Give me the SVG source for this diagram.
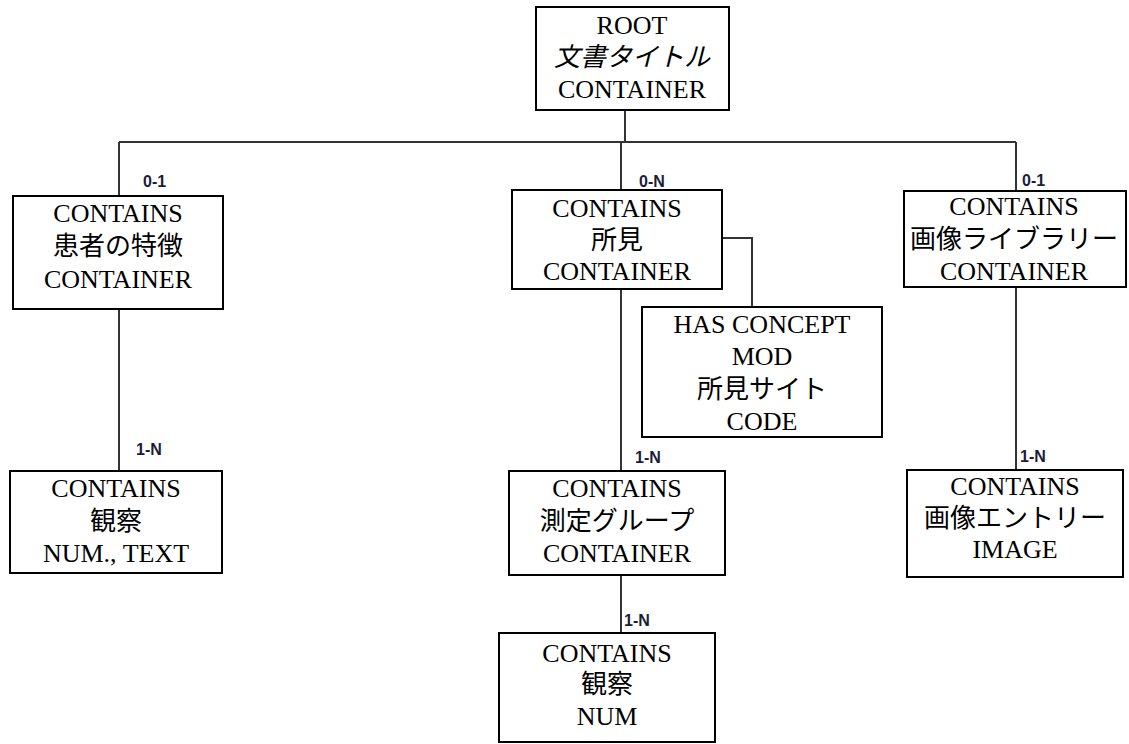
<svg xmlns="http://www.w3.org/2000/svg" width="1129" height="744" viewBox="0 0 1129 744">
<style>
.box{fill:#fff;stroke:#000;stroke-width:2}
.t{font-family:"Liberation Serif","Noto Sans CJK JP",serif;font-size:26px;fill:#000;text-anchor:middle}
.it{font-style:italic}
.lbl{font-family:"Liberation Sans",Arial,sans-serif;font-size:16px;font-weight:bold;fill:#1c1c3a}
.c{fill:none;stroke:#333;stroke-width:2}
</style>
<rect width="1129" height="744" fill="#fff"/>
<g id="connectors">
<path class="c" d="M625 110V142M119 142H1016M119 142V196M621 142V190M1016 142V191"/>
<path class="c" d="M119 309V471M621 289V471M1016 287V470M621 575V633M722 238H752V307"/>
</g>
<g id="labels">
<text class="lbl" x="143" y="187">0-1</text>
<text class="lbl" x="639" y="187">0-N</text>
<text class="lbl" x="1022" y="186">0-1</text>
<text class="lbl" x="136" y="455">1-N</text>
<text class="lbl" x="635" y="463">1-N</text>
<text class="lbl" x="624" y="626">1-N</text>
<text class="lbl" x="1020" y="462">1-N</text>
</g>
<g id="root">
<rect class="box" x="536" y="7" width="193" height="103"/>
<text class="t" x="632" y="34">ROOT</text>
<text class="t it" x="632" y="66">文書タイトル</text>
<text class="t" x="632" y="98">CONTAINER</text>
</g>
<g id="patient">
<rect class="box" x="13" y="196" width="210" height="113"/>
<text class="t" x="118" y="222">CONTAINS</text>
<text class="t" x="118" y="255">患者の特徴</text>
<text class="t" x="118" y="288">CONTAINER</text>
</g>
<g id="finding">
<rect class="box" x="512" y="190" width="210" height="99"/>
<text class="t" x="617" y="217">CONTAINS</text>
<text class="t" x="617" y="249">所見</text>
<text class="t" x="617" y="280">CONTAINER</text>
</g>
<g id="finding-site">
<rect class="box" x="642" y="307" width="240" height="130"/>
<text class="t" x="762" y="333">HAS CONCEPT</text>
<text class="t" x="762" y="365">MOD</text>
<text class="t" x="762" y="398">所見サイト</text>
<text class="t" x="762" y="430">CODE</text>
</g>
<g id="image-library">
<rect class="box" x="904" y="191" width="222" height="96"/>
<text class="t" x="1014" y="215">CONTAINS</text>
<text class="t" x="1014" y="248">画像ライブラリー</text>
<text class="t" x="1014" y="280">CONTAINER</text>
</g>
<g id="observation-left">
<rect class="box" x="10" y="471" width="212" height="102"/>
<text class="t" x="116" y="497">CONTAINS</text>
<text class="t" x="116" y="530">観察</text>
<text class="t" x="116" y="562">NUM., TEXT</text>
</g>
<g id="measurement-group">
<rect class="box" x="509" y="471" width="216" height="104"/>
<text class="t" x="617" y="497">CONTAINS</text>
<text class="t" x="617" y="530">測定グループ</text>
<text class="t" x="617" y="562">CONTAINER</text>
</g>
<g id="observation-num">
<rect class="box" x="499" y="633" width="216" height="109"/>
<text class="t" x="607" y="662">CONTAINS</text>
<text class="t" x="607" y="693">観察</text>
<text class="t" x="607" y="725">NUM</text>
</g>
<g id="image-entry">
<rect class="box" x="907" y="470" width="216" height="107"/>
<text class="t" x="1015" y="495">CONTAINS</text>
<text class="t" x="1015" y="527">画像エントリー</text>
<text class="t" x="1015" y="558">IMAGE</text>
</g>
</svg>
